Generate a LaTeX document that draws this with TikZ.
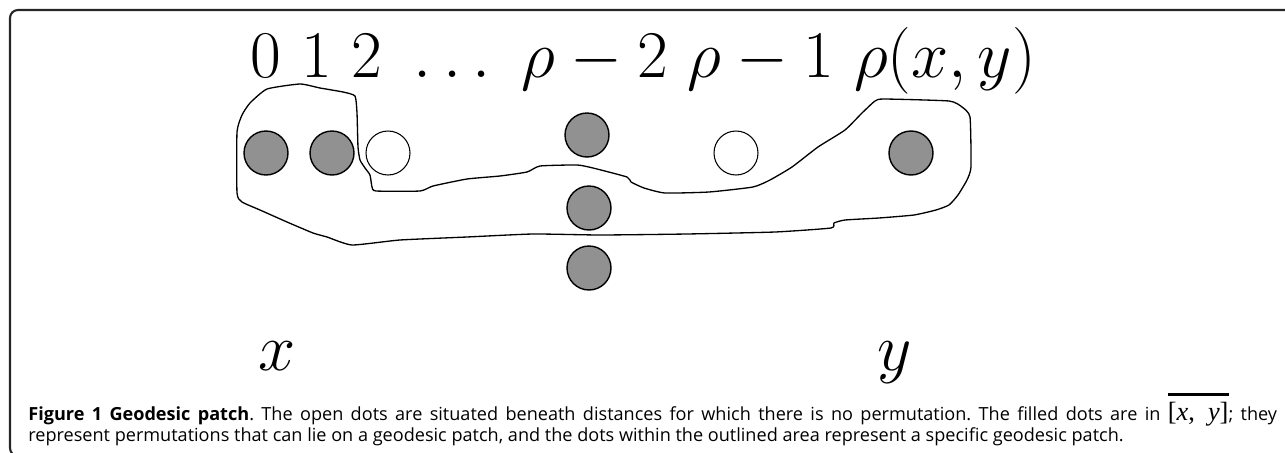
\RequirePackage{fix-cm}
\documentclass[tikz,border=0pt]{standalone}
\usepackage{fontspec}
\newfontfamily\capfont{Open Sans}
\newfontfamily\capserif{Liberation Serif}
\definecolor{dotgray}{RGB}{145,145,145}
\newsavebox\fmlbox
\newcommand\barfml[1]{\sbox\fmlbox{#1}\rlap{\raisebox{\dimexpr\ht\fmlbox+3.5pt\relax}[0pt][0pt]{\rule{\wd\fmlbox}{1.3pt}}}\raisebox{0pt}[0pt][0pt]{\usebox\fmlbox}}
\begin{document}
\begin{tikzpicture}[
    x=0.02cm, y=-0.02cm,
    fulldot/.style={circle, draw, line width=0.8pt, fill=dotgray, minimum size=0.88cm, inner sep=0pt},
    opendot/.style={circle, draw, line width=0.6pt, fill=white, minimum size=0.88cm, inner sep=0pt},
    lbl/.style={inner sep=0pt, font=\fontsize{38pt}{42pt}\selectfont},
    patch/.style={line width=0.75pt, line join=round},
    frame/.style={line width=1.2pt, black!85, rounded corners=0.16cm}
  ]
    \useasboundingbox (0,0) rectangle (1285,453);
    \draw[frame] (1300,10) -| (10,456) -- (1300,456);
    % distances
    \node[lbl, anchor=base west] (dist) at (250,77) {$0\ 1\ 2\ \ldots\ \rho-2\ \rho-1\ \rho(x,y)$};
    % the outlined patch
    \draw[patch] plot[smooth cycle, tension=0.3] coordinates {
      (250,103) (267,89) (300,84) (320,88) (343,92) (355,96) (357,113) (358,147)
      (360,160) (365,168) (370,175) (372,187) (376,191) (420,191) (433,186) (467,179)
      (500,176) (527,172) (540,166) (577,165) (593,168) (627,177) (631,182) (644,188)
      (665,193) (709,192) (753,187) (770,180) (792,167) (818,147) (845,130) (862,113)
      (875,101) (884,99) (949,101) (962,107) (970,117) (971,167) (967,180) (958,195)
      (949,205) (936,210) (914,215) (879,218) (845,220) (834,223) (831,228) (775,232)
      (687,234) (600,235) (533,234) (467,237) (400,240) (352,245) (327,237) (313,233)
      (287,222) (260,210) (242,202) (237,193) (237,132) (242,115)};
    % dots
    \node[fulldot] (n0) at (266,153) {};
    \node[fulldot] (n1) at (332,153) {};
    \node[opendot] (n2) at (388,153) {};
    \node[fulldot] (m1) at (587,135) {};
    \node[fulldot] (m2) at (589,208) {};
    \node[fulldot] (m3) at (589,268) {};
    \node[opendot] (nr1) at (736,153) {};
    \node[fulldot] (nr) at (911,153) {};
    % end points
    \node[lbl, anchor=base] (xl) at (277,370) {$x$};
    \node[lbl, anchor=base] (yl) at (895,370) {$y$};
    % caption
    \node[anchor=base west, inner sep=0pt, text width=24.98cm, align=justify,
      font=\capfont\fontsize{10.3pt}{12.5pt}\selectfont] (cap) at (28,420)
      {\hyphenpenalty=10000 \frenchspacing {\bfseries Figure 1 Geodesic patch}. The open dots are situated beneath distances for which there is no permutation. The filled dots are in \barfml{\capserif\fontsize{15pt}{15pt}\selectfont[\textit{x}, \ \textit{y}]}; they\linebreak represent permutations that can lie on a geodesic patch, and the dots within the outlined area represent a specific geodesic patch.};
\end{tikzpicture}
\end{document}
